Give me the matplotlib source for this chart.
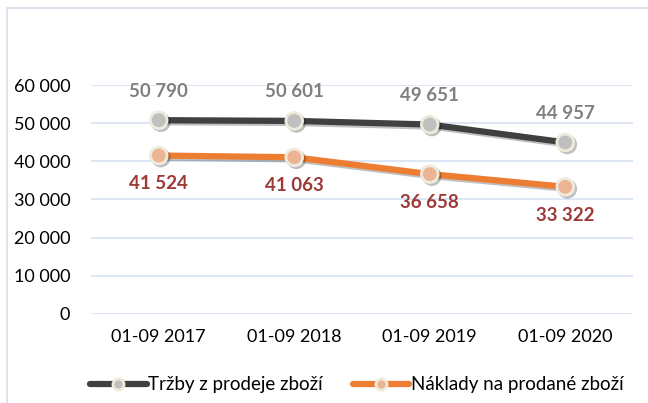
import matplotlib.pyplot as plt
import matplotlib.patheffects as pe
from matplotlib.patches import Rectangle

plt.rcParams["font.family"] = ["Lato", "DejaVu Sans"]

# data
periods = ["01-09 2017", "01-09 2018", "01-09 2019", "01-09 2020"]
trzby = [50790, 50601, 49651, 44957]
naklady = [41524, 41063, 36658, 33322]
yticks = [0, 10000, 20000, 30000, 40000, 50000, 60000]


def fmt(v):
    return f"{v:,}".replace(",", " ")


fig = plt.figure(figsize=(6.48, 4.03), dpi=100)
ax = fig.add_axes([91 / 648, 0.221, 542 / 648, 0.568])

# frame around chart area
fig.patches.append(Rectangle((7 / 648, -0.1), 1.2, 1 - 8 / 403 + 0.1,
                             transform=fig.transFigure, fill=False,
                             edgecolor="#D6DFEE", linewidth=1.2))

x = list(range(len(periods)))
shadow = [pe.SimpleLineShadow(offset=(1.5, -1.5), alpha=0.25), pe.Normal()]

ax.plot(x, trzby, color="#404040", linewidth=4.5, marker="o", markersize=12,
        markerfacecolor="#BFBFBF", markeredgecolor="#EEEBDD", markeredgewidth=2,
        label="Tržby z prodeje zboží", zorder=3, path_effects=shadow,
        solid_capstyle="round")
ax.plot(x, naklady, color="#ED7D31", linewidth=4.5, marker="o", markersize=12,
        markerfacecolor="#EDB494", markeredgecolor="#EEEBDD", markeredgewidth=2,
        label="Náklady na prodané zboží", zorder=3, path_effects=shadow,
        solid_capstyle="round")

for xi, v in zip(x, trzby):
    ax.annotate(fmt(v), (xi, v), xytext=(0, 21), textcoords="offset points",
                ha="center", va="center", fontsize=13.5, fontweight="bold",
                color="#808080")
for xi, v in zip(x, naklady):
    ax.annotate(fmt(v), (xi, v), xytext=(0, -20.5), textcoords="offset points",
                ha="center", va="center", fontsize=13.5, fontweight="bold",
                color="#9B3A36")

ax.set_xlim(-0.5, 3.5)
ax.set_ylim(0, 60000)
ax.set_yticks(yticks)
ax.set_yticklabels([fmt(t) for t in yticks])
ax.set_xticks(x)
ax.set_xticklabels(periods)
ax.tick_params(axis="both", length=0, labelsize=13, colors="black")
ax.tick_params(axis="y", pad=15)
ax.tick_params(axis="x", pad=11)
ax.yaxis.grid(True, color="#D6E2F2", linewidth=1.2)
ax.set_axisbelow(True)
for s in ax.spines.values():
    s.set_visible(False)

leg = fig.legend(loc="center", bbox_to_anchor=(0.551, 0.045), ncol=2,
                 frameon=False, fontsize=13.5, handlelength=3.0,
                 handletextpad=0.1, columnspacing=1.6)
for h in leg.legend_handles:
    h.set_markersize(8)
    h.set_path_effects([])

fig.savefig("out.png", dpi=100)
